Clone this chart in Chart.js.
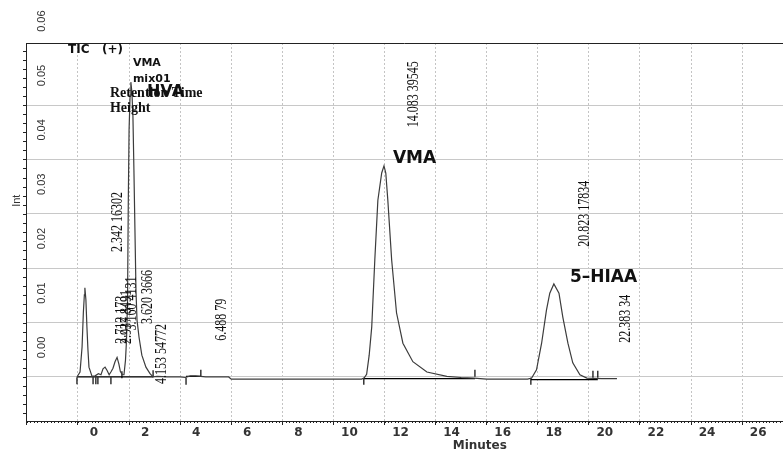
<!DOCTYPE html>
<html>
<head>
<meta charset="utf-8">
<script src="https://cdn.jsdelivr.net/npm/chart.js@4.4.0/dist/chart.umd.min.js"></script>
<style>
  body { margin: 0; background: #fff; }
</style>
</head>
<body>
<canvas id="chrom" width="783" height="450"></canvas>
<script>
// chromatogram trace (minutes / intensity)
const traceTime = [-0.04, 0.08, 0.16, 0.21, 0.25, 0.27, 0.31, 0.35, 0.39, 0.43, 0.55,
  0.67, 0.80, 0.90, 0.98, 1.06, 1.14, 1.22, 1.30, 1.37, 1.45, 1.53, 1.60, 1.66, 1.74,
  1.80, 1.86, 1.90, 1.94, 1.97, 2.00, 2.04, 2.07, 2.11, 2.15, 2.19, 2.23, 2.27, 2.31, 2.39, 2.50, 2.66, 2.82, 2.94,
  3.10, 3.50, 4.00, 4.20, 4.40, 4.60, 4.80, 5.00, 5.90, 6.00, 8.00, 10.00, 11.10,
  11.20, 11.30, 11.40, 11.50, 11.62, 11.74, 11.89, 11.98, 12.05, 12.13, 12.28, 12.47, 12.72, 13.11, 13.66, 14.44,
  15.00, 15.50, 16.00, 17.00, 17.60,
  17.76, 17.95, 18.15, 18.34, 18.47, 18.63, 18.83, 18.98, 19.18, 19.37, 19.65, 19.92, 20.50, 21.10];
const traceInt = [0, 0.0009, 0.0055, 0.0118, 0.0151, 0.0164, 0.0142, 0.0092, 0.0050, 0.0018, 0.0001,
  0.0002, 0.0006, 0.0004, 0.0015, 0.0018, 0.0012, 0.0004, 0.0010, 0.0016, 0.0028, 0.0036, 0.0024, 0.0010, 0.0004,
  0.0004, 0.0031, 0.0068, 0.0142, 0.0325, 0.0454, 0.0518, 0.0542, 0.0524, 0.0482, 0.0380, 0.0270, 0.0160, 0.0105, 0.0073, 0.0040, 0.0018, 0.0006, 0.0000,
  0.0001, 0.0000, 0.0000, -0.0001, 0.0002, 0.0002, 0.0001, 0.0000, 0.0000, -0.0004, -0.0004, -0.0004, -0.0004,
  -0.0002, 0.0005, 0.0040, 0.0092, 0.0215, 0.0325, 0.0375, 0.0388, 0.0375, 0.0325, 0.0215, 0.0118, 0.0062, 0.0028, 0.0009, 0.0001,
  -0.0001, -0.0002, -0.0004, -0.0004, -0.0004,
  -0.0002, 0.0013, 0.0062, 0.0123, 0.0154, 0.0171, 0.0154, 0.0110, 0.0062, 0.0026, 0.0004, -0.0002, -0.0003, -0.0003];

// integration baselines (null = gap)
const baseTime = [-0.04, 2.94, 3.0, 4.23, 4.81, 5.0, 11.19, 15.54, 16.0, 17.73, 20.35];
const baseInt = [0, 0, null, 0.0001, 0.0001, null, -0.0003, -0.0003, null, -0.0005, -0.0005];

// peak start / end markers
const markTime = [-0.04, 0.59, 0.70, 0.78, 1.29, 1.72, 2.94, 4.23, 4.81, 11.19, 15.54, 17.73, 20.16, 20.35];
const markInt = [-0.0007, -0.0007, -0.0007, -0.0007, -0.0007, 0.0004, 0.0006, -0.0008, 0.0007, -0.0008, 0.0007, -0.0008, 0.0005, 0.0005];

// y tick labels
const yTickValues = [0, 0.01, 0.02, 0.03, 0.04, 0.05, 0.06];
const yTickLabels = ['0.00', '0.01', '0.02', '0.03', '0.04', '0.05', '0.06'];

// retention time / height tags
const peakTag = ['2.342 16302', '2.712 173', '2.937 8491', '3.160 4131', '3.620 3666', '4.153 54772',
  '6.488 79', '14.083 39545', '20.823 17834', '22.383 34'];
const peakTagTime = [1.57, 1.72, 1.92, 2.12, 2.74, 3.29, 5.64, 13.15, 19.84, 21.45];
const peakTagInt = [0.0285, 0.0105, 0.0110, 0.0135, 0.0147, 0.0042, 0.0105, 0.0520, 0.0300, 0.0107];

const toPts = (xs, ys) => xs.map((t, i) => ({ x: t, y: ys[i] }));

const overlay = {
  id: 'overlay',
  afterDraw(chart) {
    const { ctx, chartArea: a, scales: { x, y } } = chart;
    ctx.save();
    ctx.strokeStyle = '#222';
    ctx.lineWidth = 1;

    // top frame line
    ctx.beginPath();
    ctx.moveTo(a.left, a.top + 0.5);
    ctx.lineTo(a.right, a.top + 0.5);
    ctx.stroke();

    // minor ticks
    ctx.beginPath();
    for (let i = 0; i <= 225; i++) {
      const px = Math.round(x.getPixelForValue(-2 + i * 2 / 15)) + 0.5;
      if (px > a.right) break;
      ctx.moveTo(px, a.bottom);
      ctx.lineTo(px, a.bottom + 2);
    }
    for (let i = -4; i <= 36; i++) {
      const py = Math.round(y.getPixelForValue(i * 0.01 / 6)) + 0.5;
      if (py < a.top || py > a.bottom) continue;
      ctx.moveTo(a.left, py);
      ctx.lineTo(a.left - 3, py);
    }
    ctx.stroke();

    const rotText = (txt, px, py, font, squeeze) => {
      ctx.save();
      ctx.translate(px, py);
      ctx.rotate(-Math.PI / 2);
      ctx.scale(squeeze, 1);
      ctx.font = font;
      ctx.textAlign = 'center';
      ctx.textBaseline = 'middle';
      ctx.fillText(txt, 0, 0);
      ctx.restore();
    };

    // y tick labels (rotated, sitting between grid lines)
    ctx.fillStyle = '#333';
    yTickValues.forEach((v, i) => {
      rotText(yTickLabels[i], a.left + 16, y.getPixelForValue(v) - 29.5, '11px "Liberation Sans"', 1);
    });
    rotText('Int', a.left - 9, y.getPixelForValue(0.0324), '11px "Liberation Sans"', 1);

    // peak tags
    ctx.fillStyle = '#111';
    peakTag.forEach((t, i) => {
      rotText(t, x.getPixelForValue(peakTagTime[i]), y.getPixelForValue(peakTagInt[i]), '16px "Liberation Serif"', 0.75);
    });

    const text = (txt, t, v, font) => {
      ctx.font = font;
      ctx.textAlign = 'left';
      ctx.textBaseline = 'middle';
      ctx.fillText(txt, x.getPixelForValue(t), y.getPixelForValue(v));
    };
    const sansB = s => 'bold ' + s + 'px "DejaVu Sans"';
    const serifB = s => 'bold ' + s + 'px "Liberation Serif"';
    text('TIC   (+)', -0.39, 0.0601, sansB(12));
    text('VMA', 2.15, 0.0577, sansB(11));
    text('mix01', 2.15, 0.0548, sansB(11));
    text('Retention Time', 1.25, 0.0522, serifB(14));
    text('Height', 1.25, 0.0494, serifB(14));
    text('HVA', 2.70, 0.0524, sansB(16));
    text('VMA', 12.33, 0.0401, sansB(17));
    text('5\u2013HIAA', 19.26, 0.0182, sansB(17));

    // x axis title
    ctx.fillStyle = '#333';
    ctx.font = sansB(12);
    ctx.textAlign = 'center';
    ctx.textBaseline = 'top';
    ctx.fillText('Minutes', x.getPixelForValue(15.73), a.bottom + 19);
    ctx.restore();
  }
};

new Chart(document.getElementById('chrom'), {
  type: 'scatter',
  data: {
    datasets: [
      {
        data: toPts(traceTime, traceInt),
        showLine: true,
        borderColor: '#3c3c3c',
        borderWidth: 1.2,
        pointRadius: 0,
        tension: 0
      },
      {
        data: toPts(baseTime, baseInt),
        showLine: true,
        spanGaps: false,
        borderColor: '#000',
        borderWidth: 1.3,
        pointRadius: 0
      },
      {
        data: toPts(markTime, markInt),
        showLine: false,
        pointStyle: 'line',
        rotation: 90,
        pointRadius: 3.5,
        borderColor: '#000',
        borderWidth: 1.2
      }
    ]
  },
  options: {
    responsive: false,
    animation: false,
    layout: { autoPadding: false, padding: { top: 43, left: 0, right: 0, bottom: 0 } },
    plugins: {
      legend: { display: false },
      tooltip: { enabled: false }
    },
    scales: {
      x: {
        type: 'linear',
        min: -2.035,
        max: 27.6,
        afterFit: s => { s.height = 29; s.paddingLeft = 0; s.paddingRight = 0; },
        ticks: {
          stepSize: 2,
          includeBounds: false,
          autoSkip: false,
          maxRotation: 0,
          labelOffset: 16,
          padding: 1,
          color: '#333',
          font: { family: 'DejaVu Sans', weight: 'bold', size: 12 },
          callback: v => (v < 0 ? '' : v)
        },
        grid: { color: '#c4c4c4', tickLength: 4, tickColor: '#222' },
        border: { color: '#222', width: 1, dash: [2, 2] }
      },
      y: {
        type: 'linear',
        min: -0.0081,
        max: 0.0614,
        afterFit: s => { s.width = 26; s.paddingTop = 0; s.paddingBottom = 0; },
        ticks: { stepSize: 0.01, includeBounds: false, display: false },
        grid: {
          drawTicks: false,
          color: c => (c.tick && c.tick.value > 0.055 ? 'rgba(0,0,0,0)' : '#c8c8c8')
        },
        border: { color: '#222', width: 1 }
      }
    }
  },
  plugins: [overlay]
});
</script>
</body>
</html>
